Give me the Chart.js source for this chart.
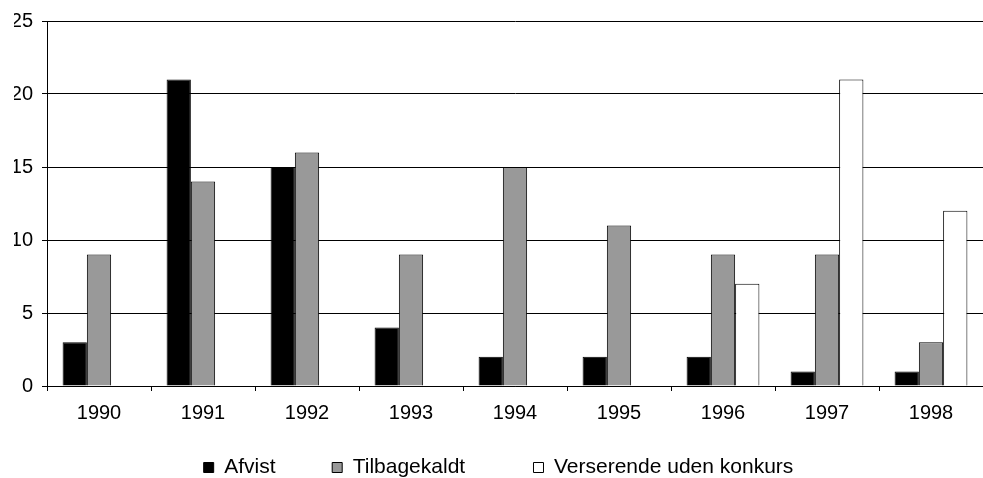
<!DOCTYPE html>
<html>
<head>
<meta charset="utf-8">
<script src="https://cdn.jsdelivr.net/npm/chart.js@4"></script>
<style>
  html, body { margin: 0; padding: 0; background: #fff; }
  #wrap { width: 983px; height: 478px; }
</style>
</head>
<body>
<div id="wrap"><canvas id="chart" width="983" height="478"></canvas></div>
<script>
  const years = ['1990', '1991', '1992', '1993', '1994', '1995', '1996', '1997', '1998'];
  const afvist = [3, 21, 15, 4, 2, 2, 2, 1, 1];
  const tilbagekaldt = [9, 14, 16, 9, 15, 11, 9, 9, 3];
  const verserende = [0, 0, 0, 0, 0, 0, 7, 21, 12];
  const yTicks = [0, 5, 10, 15, 20, 25];

  const font = 'Liberation Sans, Arial, sans-serif';
  // trailing spaces widen legend items so they sit apart like the original
  const legendGap = [8, 10, 0];

  new Chart(document.getElementById('chart'), {
    type: 'bar',
    data: {
      labels: years,
      datasets: [
        { label: 'Afvist', data: afvist, backgroundColor: '#000000' },
        { label: 'Tilbagekaldt', data: tilbagekaldt, backgroundColor: '#999999' },
        { label: 'Verserende uden konkurs', data: verserende, backgroundColor: '#ffffff' }
      ]
    },
    options: {
      responsive: false,
      animation: false,
      datasets: {
        bar: {
          borderColor: '#000000',
          borderWidth: 1,
          categoryPercentage: 0.7,
          barPercentage: 1.0
        }
      },
      layout: { padding: { top: 21, right: 0, left: 14, bottom: -10 } },
      scales: {
        x: {
          grid: {
            display: true,
            drawOnChartArea: false,
            offset: true,
            tickLength: 5,
            color: '#000000'
          },
          border: { color: '#000000' },
          ticks: { color: '#000000', font: { family: font, size: 20 }, padding: 10 },
          afterFit: function(scale) { scale.height = 61; }
        },
        y: {
          min: 0,
          max: 25,
          afterBuildTicks: function(scale) { scale.ticks = yTicks.map(v => ({ value: v })); },
          grid: { color: '#000000', tickLength: 5 },
          border: { color: '#000000' },
          ticks: { color: '#000000', font: { family: font, size: 20 }, padding: 9 },
          afterFit: function(scale) { scale.width = 33; }
        }
      },
      plugins: {
        legend: {
          position: 'bottom',
          labels: {
            color: '#000000',
            font: { family: font, size: 21 },
            boxWidth: 10,
            boxHeight: 10,
            padding: 10,
            generateLabels: function(chart) {
              const items = Chart.defaults.plugins.legend.labels.generateLabels(chart);
              items.forEach((item, i) => { item.text = item.text + ' '.repeat(legendGap[i]); });
              return items;
            }
          }
        },
        tooltip: { enabled: false }
      }
    }
  });
</script>
</body>
</html>
